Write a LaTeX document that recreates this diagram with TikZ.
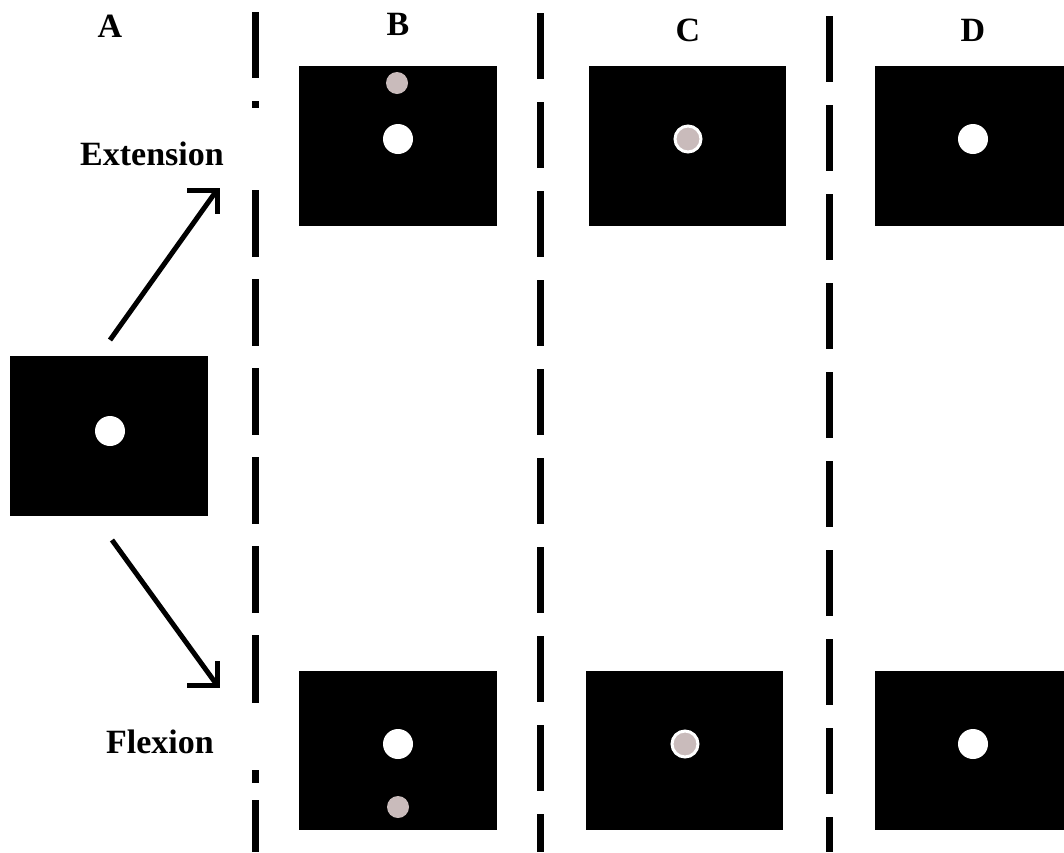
\documentclass[tikz,border=0pt]{standalone}
\usepackage{fontspec}
\setmainfont{Liberation Serif}
\definecolor{dotgray}{RGB}{201,187,187}
\tikzset{
  blackbox/.style={fill=black, draw=none, inner sep=0pt, minimum width=198pt, minimum height=160pt},
  whitedot/.style={circle, fill=white, draw=none, inner sep=0pt, minimum size=30pt},
  graydot/.style={circle, fill=dotgray, draw=none, inner sep=0pt, minimum size=22pt},
  ringdot/.style={circle, fill=dotgray, draw=white, line width=3pt, inner sep=0pt, minimum size=26pt},
  sep/.style={line width=7pt, black},
  sepdash/.style={sep, dash pattern=on 66pt off 23pt},
  arrowline/.style={line width=5pt, line join=miter, line cap=butt},
  lbl/.style={font=\fontsize{34}{34}\selectfont\bfseries, anchor=base, inner sep=0pt}
}
\begin{document}
\begin{tikzpicture}[x=1pt,y=-1pt]
\useasboundingbox (0,0) rectangle (1064,852);
% separators
\foreach \a/\b in {12/78,101/108,190/257,279/346,368/435,457/524,546/613,635/703,770/783,800/852}
  \draw[sep] (255,\a) -- (255,\b);
\coordinate (s2t) at (540.5,13);
\coordinate (s2b) at (540.5,852);
\draw[sepdash] (s2t) -- (s2b);
\coordinate (s3t) at (829,16);
\coordinate (s3b) at (829,852);
\draw[sepdash] (s3t) -- (s3b);
% column labels
\node[lbl] (la) at (110,37) {A};
\node[lbl] (lb) at (398,35) {B};
\node[lbl] (lc) at (688,41) {C};
\node[lbl] (ld) at (973,41) {D};
\node[lbl] (ext) at (152,165) {Extension};
\node[lbl] (flx) at (160,753) {Flexion};
% A
\node[blackbox] (A) at (109,436) {};
\node[whitedot] (Ad) at (110,431) {};
% B top
\node[blackbox] (Bt) at (398,146) {};
\node[graydot] (Btg) at (397,83) {};
\node[whitedot] (Btw) at (398,139) {};
% C top
\node[blackbox, minimum width=197pt] (Ct) at (687.5,146) {};
\node[ringdot] (Ctd) at (688,139) {};
% D top
\node[blackbox, minimum width=189pt] (Dt) at (969.5,146) {};
\node[whitedot] (Dtd) at (973,139) {};
% B bottom
\node[blackbox, minimum height=159pt] (Bb) at (398,750.5) {};
\node[whitedot] (Bbw) at (398,744) {};
\node[graydot] (Bbg) at (398,807) {};
% C bottom
\node[blackbox, minimum width=197pt, minimum height=159pt] (Cb) at (684.5,750.5) {};
\node[ringdot] (Cbd) at (685,744) {};
% D bottom
\node[blackbox, minimum width=189pt, minimum height=159pt] (Db) at (969.5,750.5) {};
\node[whitedot] (Dbd) at (973,744) {};
% arrows
\coordinate (u0) at (110,340);
\coordinate (u1) at (217,190);
\draw[arrowline] (u0) -- (u1);
\draw[arrowline] (u1) ++(-30,0) -- (u1) -- ++(0,24);
\coordinate (d0) at (112,540);
\coordinate (d1) at (217,685);
\draw[arrowline] (d0) -- (d1);
\draw[arrowline] (d1) ++(-30,0) -- (d1) -- ++(0,-24);
\end{tikzpicture}
\end{document}
